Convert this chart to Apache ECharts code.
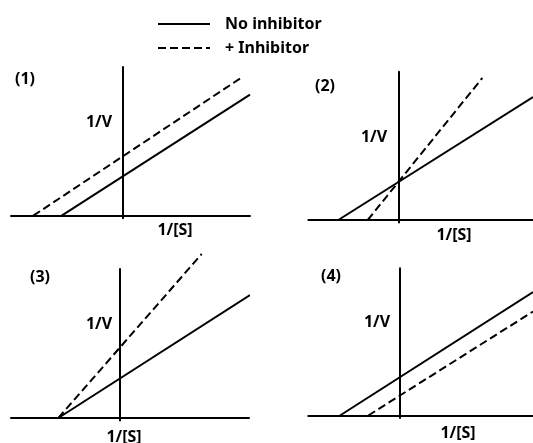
<!DOCTYPE html>
<html>
<head>
<meta charset="utf-8">
<script src="https://cdn.jsdelivr.net/npm/echarts@6/dist/echarts.min.js"></script>
<style>
html,body{margin:0;padding:0;background:#fff;}
#chart{width:533px;height:443px;}
</style>
</head>
<body>
<div id="chart"></div>
<script>
// Arbitrary units (1/[S], 1/V); each line: [x-intercept point, end point]
const seriesNames = ['No inhibitor', '+ Inhibitor'];
const panelLabels = ['(1)', '(2)', '(3)', '(4)'];
const xAxisTitle = '1/[S]';
const yAxisTitle = '1/V';

const panel1Solid = [[-6.06, 0], [12.77, 12.1]];
const panel1Dashed = [[-8.9, 0], [11.9, 13.8]];
const panel2Solid = [[-6.0, 0], [13.47, 12.3]];
const panel2Dashed = [[-3.06, 0], [8.4, 14.2]];
const panel3Solid = [[-6.1, 0], [13.07, 12.3]];
const panel3Dashed = [[-6.1, 0], [8.24, 16.4]];
const panel4Solid = [[-6.0, 0], [13.3, 12.35]];
const panel4Dashed = [[-3.17, 0], [13.3, 10.4]];

const solidData = [panel1Solid, panel2Solid, panel3Solid, panel4Solid];
const dashedData = [panel1Dashed, panel2Dashed, panel3Dashed, panel4Dashed];

// layout: x-axis pixel span, origin, y-axis top (pixels)
const layout = [
  {x0: 11, x1: 250, ox: 122.3, oy: 215.7, top: 67,
   lab: [25, 79], yl: [99, 122], xl: [175, 230]},
  {x0: 308.3, x1: 533, ox: 398.3, oy: 220, top: 71.7,
   lab: [325, 86], yl: [374, 137], xl: [454, 235]},
  {x0: 11, x1: 249, ox: 119.3, oy: 418, top: 269,
   lab: [40, 277], yl: [99, 324], xl: [124, 437]},
  {x0: 308.3, x1: 533, ox: 400, oy: 415.5, top: 268.3,
   lab: [331, 276], yl: [377, 322], xl: [458, 433]}
];
const PX = 10; // pixels per unit
const below = 0.25;

const grids = [], xAxes = [], yAxes = [], series = [], graphics = [];
const FONT = '"Noto Sans", "DejaVu Sans", sans-serif';
const DASH = [8, 4];
layout.forEach((L, i) => {
  grids.push({left: L.x0, width: L.x1 - L.x0, top: L.top, height: (L.oy - L.top) + below * PX});
  const axisLine = {show: true, onZero: true, lineStyle: {color: '#000', width: 2}};
  xAxes.push({gridIndex: i, type: 'value', min: (L.x0 - L.ox) / PX, max: (L.x1 - L.ox) / PX,
    axisLine: axisLine, axisTick: {show: false}, axisLabel: {show: false}, splitLine: {show: false}});
  yAxes.push({gridIndex: i, type: 'value', min: -below, max: (L.oy - L.top) / PX,
    axisLine: axisLine, axisTick: {show: false}, axisLabel: {show: false}, splitLine: {show: false}});
  series.push({name: seriesNames[0], type: 'line', xAxisIndex: i, yAxisIndex: i,
    data: solidData[i], symbol: 'none', showSymbol: false, clip: false, silent: true,
    lineStyle: {color: '#000', width: 2, type: 'solid'}, itemStyle: {color: '#000'}});
  series.push({name: seriesNames[1], type: 'line', xAxisIndex: i, yAxisIndex: i,
    data: dashedData[i], symbol: 'none', showSymbol: false, clip: false, silent: true,
    lineStyle: {color: '#000', width: 2, type: DASH}, itemStyle: {color: '#000'}});
  const txt = (t, p) => ({type: 'text', x: p[0], y: p[1], silent: true,
    style: {text: t, fill: '#000', font: 'bold 16px ' + FONT, textAlign: 'center', textVerticalAlign: 'middle'}});
  graphics.push(txt(panelLabels[i], L.lab), txt(yAxisTitle, L.yl), txt(xAxisTitle, L.xl));
});

const chart = echarts.init(document.getElementById('chart'), null, {renderer: 'canvas'});
chart.setOption({
  animation: false,
  backgroundColor: '#fff',
  legend: {data: seriesNames, orient: 'vertical', left: 157, top: 16, padding: 0,
    itemWidth: 52, itemHeight: 14, itemGap: 8, selectedMode: false,
    itemStyle: {opacity: 0},
    textStyle: {color: '#000', fontWeight: 'bold', fontSize: 16, fontFamily: FONT, padding: [0, 0, 0, 10]}},
  grid: grids, xAxis: xAxes, yAxis: yAxes, series: series, graphic: graphics
});
</script>
</body>
</html>
